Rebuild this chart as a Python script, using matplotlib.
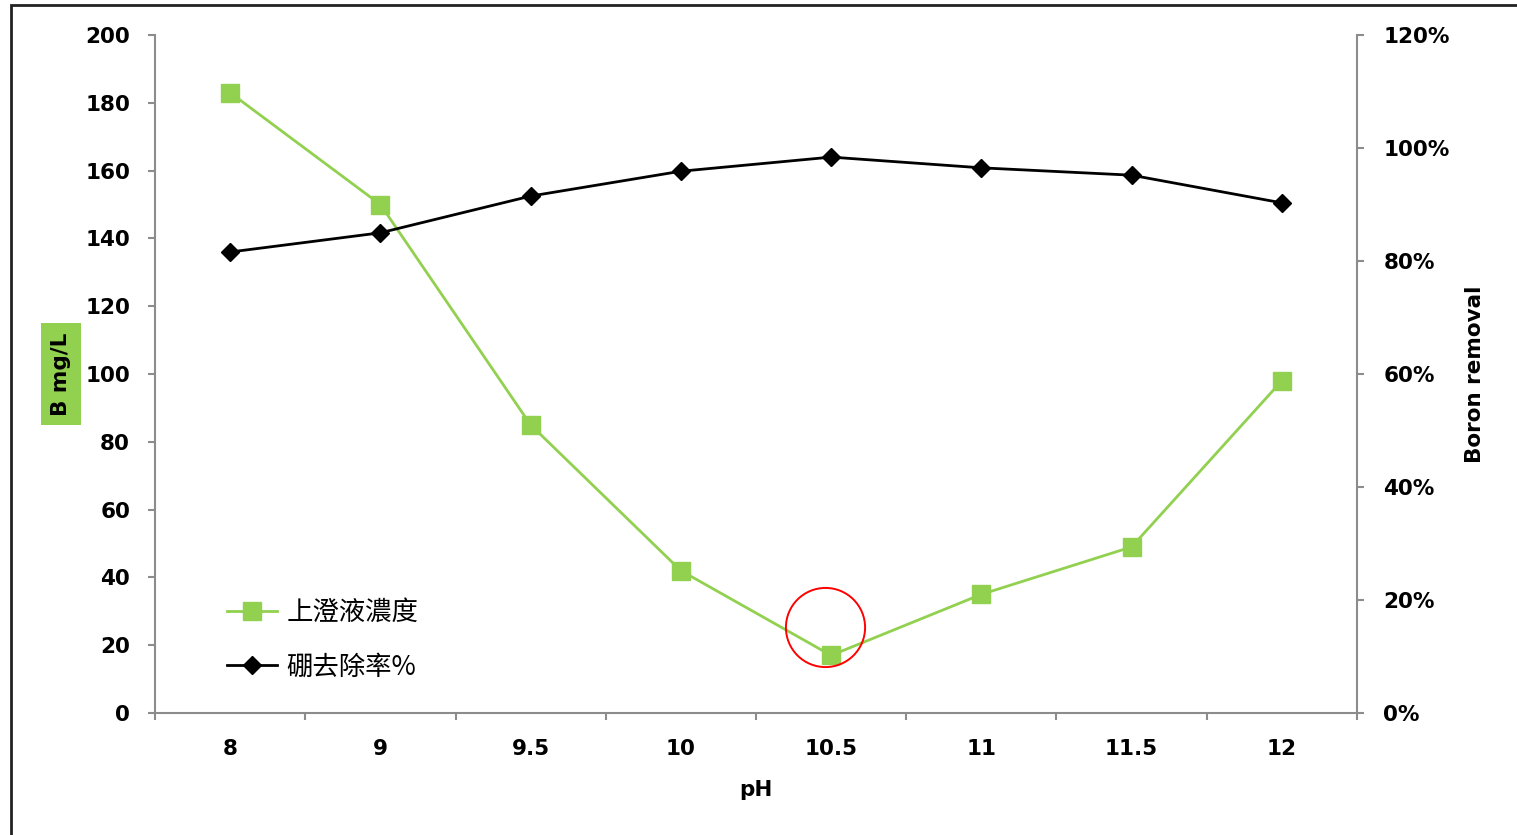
import matplotlib
matplotlib.use("Agg")
import matplotlib.pyplot as plt
from matplotlib.ticker import PercentFormatter, FixedLocator, NullFormatter
from matplotlib.patches import Rectangle

# pH levels tested (categorical x axis)
ph_levels = ["8", "9", "9.5", "10", "10.5", "11", "11.5", "12"]
# supernatant boron concentration, mg/L (left axis)
supernatant_conc = [183, 150, 85, 42, 17, 35, 49, 98]
# boron removal ratio (right axis, fraction of 1)
removal_rate = [0.816, 0.850, 0.915, 0.959, 0.984, 0.965, 0.952, 0.903]

series_labels = ["上澄液濃度", "硼去除率%"]

GREEN = "#92D050"
SPINE = "#8c8c8c"
FONT = "DejaVu Sans"
CJK = ["Noto Sans CJK TC", "DejaVu Sans"]
FS = 15.5

fig = plt.figure(figsize=(15.17, 8.35), dpi=100)
ax = fig.add_axes([0.1022, 0.1461, 0.7923, 0.8119])
ax2 = ax.twinx()

x = list(range(len(ph_levels)))

l1, = ax.plot(x, supernatant_conc, color=GREEN, lw=2.0, marker="s",
              markersize=13, markerfacecolor=GREEN, markeredgecolor=GREEN,
              zorder=3, label=series_labels[0])
l2, = ax2.plot(x, removal_rate, color="black", lw=2.0, marker="D",
               markersize=9.5, markerfacecolor="black", markeredgecolor="black",
               zorder=3, label=series_labels[1])

# circle highlighting the minimum concentration
highlight_x, highlight_y = 3.96, 25.5
ax.plot([highlight_x], [highlight_y], marker="o", markersize=57,
        markerfacecolor="none", markeredgecolor="#ff0000", markeredgewidth=1.4,
        zorder=4)

# axes limits and ticks
ax.set_xlim(-0.5, len(ph_levels) - 0.5)
ax.set_ylim(0, 200)
ax.set_yticks(range(0, 201, 20))
ax2.set_ylim(0, 1.2)
ax2.set_yticks([i / 5 for i in range(7)])
ax2.yaxis.set_major_formatter(PercentFormatter(1.0, decimals=0))

ax.xaxis.set_major_locator(FixedLocator([i - 0.5 for i in range(len(ph_levels) + 1)]))
ax.xaxis.set_major_formatter(NullFormatter())
ax.set_xticks(x, ph_levels, minor=True)

ax.spines["top"].set_visible(False)
ax2.spines["top"].set_visible(False)
for a, sides in ((ax, ("left", "bottom")), (ax2, ("right",))):
    for side in sides:
        a.spines[side].set_color(SPINE)
        a.spines[side].set_linewidth(1.5)
ax.spines["right"].set_visible(False)
ax2.spines["left"].set_visible(False)
ax2.spines["bottom"].set_visible(False)

ax.tick_params(axis="y", direction="out", length=5, width=1.5, color=SPINE,
               pad=13, labelsize=FS)
ax.tick_params(axis="x", which="major", direction="out", length=5, width=1.5,
               color=SPINE)
ax.tick_params(axis="x", which="minor", length=0, pad=19, labelsize=FS)
ax2.tick_params(axis="y", direction="out", length=5, width=1.5, color=SPINE,
                pad=14, labelsize=FS)

for lbl in ax.get_yticklabels() + ax2.get_yticklabels() + ax.get_xticklabels(minor=True):
    lbl.set_fontfamily(FONT)
    lbl.set_fontweight("bold")

# axis titles
ax.set_xlabel("pH", fontsize=FS, fontweight="bold", family=FONT, labelpad=15)
ax.set_ylabel("B mg/L", fontsize=FS, fontweight="bold", family=FONT,
              bbox=dict(facecolor=GREEN, edgecolor="none", pad=7))
ax.yaxis.set_label_coords(-0.0698, 0.5)
ax2.set_ylabel("Boron removal", fontsize=FS, fontweight="bold", family=FONT,
               rotation=90)
ax2.yaxis.set_label_coords(1.0899, 0.5)

# legend
leg = ax2.legend([l1, l2], series_labels, loc="center left",
                 bbox_to_anchor=(0.06, 0.108), frameon=False,
                 prop=dict(family=CJK, size=19), handlelength=1.9,
                 handletextpad=0.35, labelspacing=1.05, borderpad=0,
                 borderaxespad=0)

# outer frame of the figure
fig.patches.append(Rectangle((11 / 1517, -0.05), 1.2, (835 - 5) / 835 + 0.05,
                             transform=fig.transFigure, fill=False,
                             edgecolor="#222222", linewidth=2.0))

fig.savefig("out.png", dpi=100)
